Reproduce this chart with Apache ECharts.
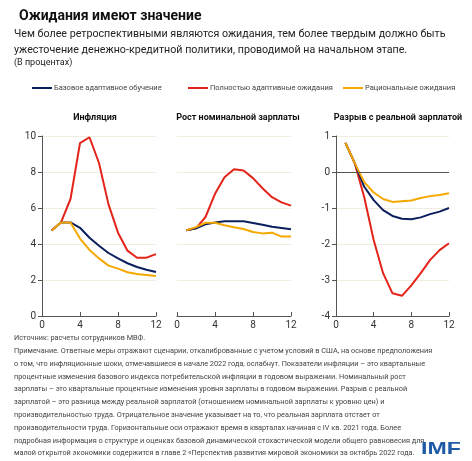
<!DOCTYPE html>
<html><head><meta charset="utf-8">
<script src="https://cdn.jsdelivr.net/npm/echarts@6/dist/echarts.min.js"></script>
<style>html,body{margin:0;padding:0;background:#fff}#c{width:472px;height:461px}</style>
</head><body><div id="c"></div>
<script>
const quarters = [1,2,3,4,5,6,7,8,9,10,11,12];
const seriesNames = ['Базовое адаптивное обучение','Полностью адаптивные ожидания','Рациональные ожидания'];
const panelTitles = ['Инфляция','Рост номинальной зарплаты','Разрыв с реальной зарплатой'];
// Inflation
const inflBase = [4.75,5.2,5.2,4.9,4.35,3.9,3.5,3.2,2.93,2.72,2.57,2.44];
const inflAdapt = [4.75,5.2,6.5,9.6,9.93,8.5,6.2,4.63,3.63,3.24,3.24,3.44];
const inflRat = [4.75,5.2,5.2,4.3,3.67,3.2,2.8,2.63,2.43,2.33,2.28,2.22];
// Nominal wage growth
const wageBase = [4.76,4.87,5.09,5.2,5.26,5.26,5.26,5.17,5.07,4.96,4.89,4.82];
const wageAdapt = [4.76,4.87,5.5,6.79,7.71,8.15,8.08,7.66,7.1,6.6,6.31,6.13];
const wageRat = [4.76,4.94,5.18,5.18,5.04,4.93,4.83,4.67,4.59,4.63,4.41,4.41];
// Real wage gap
const gapBase = [0.81,0.24,-0.41,-0.78,-1.06,-1.22,-1.3,-1.31,-1.26,-1.17,-1.1,-1.0];
const gapAdapt = [0.81,0.24,-0.7,-1.89,-2.81,-3.37,-3.44,-3.15,-2.81,-2.44,-2.17,-1.98];
const gapRat = [0.81,0.24,-0.28,-0.57,-0.75,-0.83,-0.81,-0.79,-0.72,-0.67,-0.64,-0.59];
const noteLines = [
'Источник: расчеты сотрудников МВФ.',
'Примечание. Ответные меры отражают сценарии, откалиброванные с учетом условий в США, на основе предположения',
'о том, что инфляционные шоки, отмечавшиеся в начале 2022 года, ослабнут. Показатели инфляции – это квартальные',
'процентные изменения базового индекса потребительской инфляции в годовом выражении. Номинальный рост',
'зарплаты – это квартальные процентные изменения уровня зарплаты в годовом выражении. Разрыв с реальной',
'зарплатой – это разница между реальной зарплатой (отношением номинальной зарплаты к уровню цен) и',
'производительностью труда. Отрицательное значение указывает на то, что реальная зарплата отстает от',
'производительности труда. Горизонтальные оси отражают время в кварталах начиная с IV кв. 2021 года. Более',
'подробная информация о структуре и оценках базовой динамической стохастической модели общего равновесия для',
'малой открытой экономики содержится в главе 2 «Перспектив развития мировой экономики за октябрь 2022 года.'
];
const colors = ['#0b1f5e','#e3241b','#f5a800'];
const FF = 'Roboto, sans-serif';
const pair = arr => quarters.map((q,i)=>[q,arr[i]]);
const panelData = [[inflBase,inflAdapt,inflRat],[wageBase,wageAdapt,wageRat],[gapBase,gapAdapt,gapRat]];
const grids = [
  {left:42, width:114, top:136, height:180},
  {left:177, width:114, top:136, height:180},
  {left:336, width:113, top:136, height:180}
];
const yCfg = [{min:0,max:10,interval:2,show:true},{min:0,max:10,interval:2,show:false},{min:-4,max:1,interval:1,show:true}];
const chart = echarts.init(document.getElementById('c'));
const series = [];
panelData.forEach((p,gi)=>{
  p.forEach((arr,si)=>{
    const s = {type:'line', name:seriesNames[si], xAxisIndex:gi, yAxisIndex:gi, data:pair(arr),
      symbol:'none', lineStyle:{width:2, color:colors[si]}, itemStyle:{color:colors[si]}, z: si===1?2:3};
    if(gi===2 && si===0){
      s.markLine = {silent:true, symbol:'none', label:{show:false}, lineStyle:{color:'#555',width:1,type:'solid'}, data:[{yAxis:0}]};
    }
    series.push(s);
  });
});
const legendLeft = [27,183,338];
chart.setOption({
  animation:false,
  color:colors,
  title:[
    {text:'Ожидания имеют значение', left:14, top:4, textStyle:{fontFamily:FF, fontSize:14, fontWeight:'bold', color:'#111'}},
    ...panelTitles.map((t,i)=>({text:t, left:[90,233,393][i], top:108, textAlign:'center', textStyle:{fontFamily:FF,fontSize:9,fontWeight:'bold',color:'#111'}}))
  ],
  legend:seriesNames.map((n,i)=>({top:79, left:legendLeft[i], itemWidth:20, itemHeight:2, icon:'rect', itemGap:0,
    textStyle:{fontFamily:FF,fontSize:7.5,color:'#444',padding:[0,0,0,-3]}, data:[n]})),
  grid:grids,
  xAxis:grids.map((g,i)=>({gridIndex:i, type:'value', min:0, max:12, interval:4,
    axisLine:{show:true, onZero:false, lineStyle:{color:'#555'}},
    axisTick:{show:true, inside:true, length:4, lineStyle:{color:'#555'}},
    axisLabel:{fontFamily:FF,fontSize:10,color:'#333',margin:4},
    splitLine:{show:false}})),
  yAxis:yCfg.map((c,i)=>({gridIndex:i, type:'value', min:c.min, max:c.max, interval:c.interval,
    axisLine:{show:c.show, lineStyle:{color:'#555'}},
    axisTick:{show:c.show, length:4, lineStyle:{color:'#555'}},
    axisLabel:{show:c.show, fontFamily:FF,fontSize:10,color:'#333',margin:6},
    splitLine:{show:true, lineStyle:{color:'#efece0',width:1}}})),
  series:series,
  graphic:[
    {type:'text', left:14, top:26, style:{text:'Чем более ретроспективными являются ожидания, тем более твердым должно быть\nужесточение денежно-кредитной политики, проводимой на начальном этапе.', fontFamily:FF, fontSize:10.7, lineHeight:16, fill:'#222'}},
    {type:'text', left:14, top:58, style:{text:'(В процентах)', fontFamily:FF, fontSize:9, fill:'#222'}},
    {type:'text', left:14, top:332, style:{text:noteLines.join('\n'), fontFamily:FF, fontSize:7.3, lineHeight:12.8, fill:'#444'}},
    {type:'text', x:421, y:441, scaleX:1.36, scaleY:1, style:{text:'IMF', fontFamily:'"Liberation Sans", Arial, sans-serif', fontSize:17, fontWeight:'bold', fill:'#1f5aa6', textVerticalAlign:'top'}}
  ]
});
</script></body></html>
